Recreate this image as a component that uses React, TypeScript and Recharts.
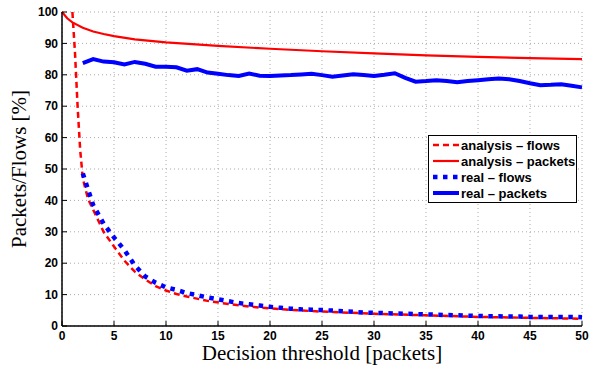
import React from 'react';
import { LineChart, Line, XAxis, YAxis, CartesianGrid, Legend } from 'recharts';

// x positions (decision threshold, packets) and y values (%) for each series
const analysisFlowsX = [1, 1.25, 1.5, 1.75, 2, 2.5, 3, 3.5, 4, 5, 6, 7, 8, 9, 10, 11, 12, 14, 16, 18, 20, 22, 25, 30, 35, 40, 45, 50];
const analysisFlowsY = [100, 87, 70, 56, 47, 40.5, 37, 33.5, 30, 25.3, 20.8, 17.3, 14.8, 12.7, 11.3, 10.2, 9.4, 8, 7, 6.2, 5.6, 5.1, 4.6, 3.9, 3.4, 2.9, 2.6, 2.3];

const analysisPacketsX = [0, 0.5, 1, 2, 3, 4, 5, 7, 10, 15, 20, 25, 30, 35, 40, 45, 50];
const analysisPacketsY = [100, 98, 96.7, 95, 93.8, 93, 92.3, 91.3, 90.3, 89.2, 88.3, 87.5, 86.8, 86.2, 85.7, 85.3, 85];

const realX = [2, 3, 4, 5, 6, 7, 8, 9, 10, 11, 12, 13, 14, 15, 16, 17, 18, 19, 20, 21, 22, 23, 24, 25, 26, 27, 28, 29, 30, 31, 32, 33, 34, 35, 36, 37, 38, 39, 40, 41, 42, 43, 44, 45, 46, 47, 48, 49, 50];
const realFlowsY = [48.6, 38.5, 32.6, 28.2, 24.2, 19.3, 15.8, 13.8, 12.3, 11.5, 10.5, 9.8, 9.1, 8.5, 7.9, 7.3, 6.9, 6.5, 6.1, 5.8, 5.5, 5.3, 5.2, 5.1, 4.9, 4.7, 4.5, 4.3, 4.2, 4.1, 4.0, 3.9, 3.8, 3.7, 3.6, 3.5, 3.4, 3.3, 3.2, 3.1, 3.1, 3.0, 3.0, 2.9, 2.9, 2.9, 2.9, 2.9, 2.8];
const realPacketsY = [83.7, 85, 84.2, 84, 83.3, 84.1, 83.5, 82.6, 82.6, 82.4, 81.3, 81.8, 80.7, 80.3, 79.9, 79.6, 80.4, 79.7, 79.6, 79.8, 79.9, 80.1, 80.3, 79.9, 79.4, 79.8, 80.2, 79.9, 79.6, 80, 80.5, 79, 77.8, 78, 78.3, 78, 77.6, 78, 78.3, 78.6, 78.8, 78.6, 78, 77.3, 76.7, 76.8, 77, 76.5, 76];

const xTicks = [0, 5, 10, 15, 20, 25, 30, 35, 40, 45, 50];
const yTicks = [0, 10, 20, 30, 40, 50, 60, 70, 80, 90, 100];

const toPoints = (xs: number[], ys: number[]) => xs.map((x, i) => ({ x, y: ys[i] }));

const series = [
  { name: 'analysis \u2013 flows', data: toPoints(analysisFlowsX, analysisFlowsY), color: '#ff0000', width: 2.5, dash: '6 4' },
  { name: 'analysis \u2013 packets', data: toPoints(analysisPacketsX, analysisPacketsY), color: '#ff0000', width: 2.2, dash: undefined },
  { name: 'real \u2013 flows', data: toPoints(realX, realFlowsY), color: '#0000ff', width: 4.5, dash: '4.5 5.5' },
  { name: 'real \u2013 packets', data: toPoints(realX, realPacketsY), color: '#0000ff', width: 4, dash: undefined },
];

const tickStyle = { fontFamily: 'Liberation Sans, Arial, sans-serif', fontSize: 12, fontWeight: 'bold', fill: '#000' };
const labelStyle = { fontFamily: 'Liberation Serif, Times New Roman, serif', fontSize: 21, fill: '#000' };

const LegendBox = () => (
  <div style={{ border: '1px solid #000', background: '#fff', padding: '1px 0', boxSizing: 'border-box' }}>
    {series.map((s) => (
      <div key={s.name} style={{ display: 'flex', alignItems: 'center', height: 16 }}>
        <svg width={32} height={16}>
          <line x1={4} y1={8} x2={30} y2={8} stroke={s.color} strokeWidth={s.width} strokeDasharray={s.dash} />
        </svg>
        <span style={{ fontFamily: 'Liberation Sans, Arial, sans-serif', fontSize: 13, fontWeight: 'bold', color: '#000', whiteSpace: 'nowrap' }}>
          {s.name}
        </span>
      </div>
    ))}
  </div>
);

const App: React.FC = () => {
  return (
    <div style={{ position: 'absolute', left: 0, top: 0, background: '#fff' }}>
      <LineChart width={591} height={367} margin={{ top: 12, right: 9, bottom: 0, left: 0 }}>
        <CartesianGrid stroke="#aaa" strokeDasharray="1 3" />
        <XAxis
          dataKey="x"
          type="number"
          domain={[0, 50]}
          ticks={xTicks}
          height={41}
          tickSize={-5}
          tickMargin={10}
          tick={tickStyle}
          axisLine={{ stroke: '#000', strokeWidth: 1.5 }}
          tickLine={{ stroke: '#000' }}
          allowDuplicatedCategory={false}
          label={{ value: 'Decision threshold [packets]', position: 'insideBottom', offset: 7, style: labelStyle }}
        />
        <XAxis
          xAxisId="top"
          orientation="top"
          type="number"
          domain={[0, 50]}
          ticks={xTicks}
          height={0}
          tickSize={-5}
          tick={false}
          axisLine={{ stroke: '#000', strokeWidth: 1.5 }}
          tickLine={{ stroke: '#000' }}
        />
        <YAxis
          type="number"
          domain={[0, 100]}
          ticks={yTicks}
          width={62}
          tickSize={-5}
          tickMargin={9}
          tick={tickStyle}
          axisLine={{ stroke: '#000', strokeWidth: 1.5 }}
          tickLine={{ stroke: '#000' }}
          label={{ value: 'Packets/Flows [%]', angle: -90, position: 'insideLeft', offset: 19, style: { ...labelStyle, textAnchor: 'middle' } }}
        />
        <YAxis
          yAxisId="right"
          orientation="right"
          type="number"
          domain={[0, 100]}
          ticks={yTicks}
          width={0}
          tickSize={-5}
          tick={false}
          axisLine={{ stroke: '#000', strokeWidth: 1.5 }}
          tickLine={{ stroke: '#000' }}
        />
        <Legend
          layout="vertical"
          align="center"
          verticalAlign="middle"
          content={() => <LegendBox />}
          wrapperStyle={{ left: 428, top: 135, width: 149 }}
        />
        {series.map((s) => (
          <Line
            key={s.name}
            name={s.name}
            data={s.data}
            dataKey="y"
            type="linear"
            stroke={s.color}
            strokeWidth={s.width}
            strokeDasharray={s.dash}
            dot={false}
            activeDot={false}
            isAnimationActive={false}
          />
        ))}
      </LineChart>
    </div>
  );
};

export default App;
